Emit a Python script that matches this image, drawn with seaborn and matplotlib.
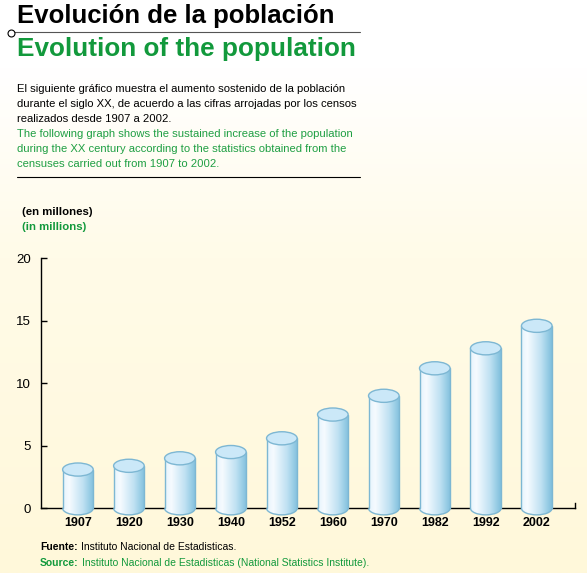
import numpy as np
import pandas as pd
import matplotlib
matplotlib.use("Agg")
import matplotlib.pyplot as plt
import seaborn as sns
from matplotlib.patches import Ellipse, Arc
from matplotlib.colors import LinearSegmentedColormap
from matplotlib.lines import Line2D

# data (millions)
YEARS = ["1907", "1920", "1930", "1940", "1952", "1960", "1970", "1982", "1992", "2002"]
POPULATION = [3.1, 3.4, 4.0, 4.5, 5.6, 7.5, 9.0, 11.2, 12.8, 14.6]
Y_TICKS = [0, 5, 10, 15, 20]

TITLE_ES = "Evolución de la población"
TITLE_EN = "Evolution of the population"
TEXT_ES = ["El siguiente gráfico muestra el aumento sostenido de la población",
           "durante el siglo XX, de acuerdo a las cifras arrojadas por los censos",
           "realizados desde 1907 a 2002."]
TEXT_EN = ["The following graph shows the sustained increase of the population",
           "during the XX century according to the statistics obtained from the",
           "censuses carried out from 1907 to 2002."]

W, H = 587, 573
GREEN = "#12993c"
GREEN_TXT = "#1f9f43"
EDGE = "#7db7d3"

sns.set_theme(style="white")
plt.rcParams["font.family"] = ["Liberation Sans", "DejaVu Sans"]


def px(x, y):
    return x / W, 1 - y / H


fig = plt.figure(figsize=(W / 100, H / 100), dpi=100)

# background: white at the top fading to cream
bg = fig.add_axes([0, 0, 1, 1], zorder=-10)
bg_cmap = LinearSegmentedColormap.from_list(
    "bg", [(0, "#ffffff"), (0.12, "#ffffff"), (0.45, "#fffbe8"), (1, "#fff8da")])
bg.imshow(np.linspace(0, 1, 256).reshape(-1, 1), aspect="auto", cmap=bg_cmap,
          extent=[0, 1, 0, 1], origin="upper")
bg.axis("off")

# chart axes (data 0 at y=508 px, 12.5 px per unit)
y_low = -0.6
ax = fig.add_axes([40.7 / W, 1 - (508.3 - y_low * 12.5) / H,
                   (575 - 40.7) / W, (20 - y_low) * 12.5 / H])
ax.patch.set_alpha(0)

df = pd.DataFrame({"year": YEARS, "population": POPULATION})
sns.barplot(data=df, x="year", y="population", width=0.6, color="#bfe3f5", ax=ax)

cyl_cmap = LinearSegmentedColormap.from_list(
    "cyl", [(0, "#e6f4fc"), (0.2, "#f6fbff"), (0.65, "#bfe1f2"), (1, "#80c0dd")])
grad = np.linspace(0, 1, 64).reshape(1, -1)
EH = 1.05  # ellipse height in data units

for p in list(ax.patches):
    x0, w, h = p.get_x(), p.get_width(), p.get_height()
    cx = x0 + w / 2
    p.set_facecolor("none")
    p.set_edgecolor("none")
    body = ax.imshow(grad, cmap=cyl_cmap, extent=[x0, x0 + w, 0, h],
                     aspect="auto", origin="lower", zorder=3)
    body.set_clip_path(p)
    base = Ellipse((cx, 0), w, EH, facecolor="none", edgecolor="none")
    ax.add_patch(base)
    bimg = ax.imshow(grad, cmap=cyl_cmap, extent=[x0, x0 + w, -EH / 2, 0],
                     aspect="auto", origin="lower", zorder=3)
    bimg.set_clip_path(base)
    ax.plot([x0, x0], [0, h], color=EDGE, lw=1, zorder=4)
    ax.plot([x0 + w, x0 + w], [0, h], color=EDGE, lw=1, zorder=4)
    ax.add_patch(Arc((cx, 0), w, EH, theta1=180, theta2=360, color=EDGE, lw=1, zorder=4))
    ax.add_patch(Ellipse((cx, h), w, EH, facecolor="#cbe8f8", edgecolor=EDGE, lw=1, zorder=5))

ax.set_xlim(-0.73, 9.75)
ax.set_ylim(y_low, 20)
ax.set_yticks(Y_TICKS)
ax.set_xlabel("")
ax.set_ylabel("")

for s in ["left", "bottom", "right"]:
    ax.spines[s].set_color("black")
    ax.spines[s].set_linewidth(1)
ax.spines["top"].set_visible(False)
ax.spines["bottom"].set_position(("data", 0))
ax.spines["left"].set_bounds(0, 20)
ax.spines["right"].set_bounds(0, 0.4)

ax.tick_params(axis="y", direction="in", length=4, width=1, labelsize=9.5,
               pad=7, colors="black", left=True)
ax.tick_params(axis="x", length=0, labelsize=9, pad=6, colors="black")
for lbl in ax.get_xticklabels():
    lbl.set_fontweight("bold")

# header
fig.text(*px(17, 23), TITLE_ES, fontsize=18.5, weight="bold", color="black", va="baseline")
fig.text(*px(17, 56), TITLE_EN, fontsize=18.8, weight="bold", color=GREEN, va="baseline")
fig.add_artist(Line2D([14 / W, 360 / W], [1 - 32 / H] * 2, color="#555555", lw=0.8))
fig.add_artist(Line2D([11 / W], [1 - 33 / H], marker="o", markersize=5,
                      mfc="white", mec="black", mew=0.8))

for i, line in enumerate(TEXT_ES):
    fig.text(*px(17, 92 + 15 * i), line, fontsize=8.1, color="black", va="baseline")
for i, line in enumerate(TEXT_EN):
    fig.text(*px(17, 137 + 15 * i), line, fontsize=8.1, color=GREEN_TXT, va="baseline")
fig.add_artist(Line2D([17 / W, 360 / W], [1 - 177 / H] * 2, color="black", lw=0.8))

fig.text(*px(22, 215), "(en millones)", fontsize=8.2, weight="bold", color="black", va="baseline")
fig.text(*px(22, 230), "(in millions)", fontsize=8.2, weight="bold", color=GREEN, va="baseline")

# footer, bold lead-in followed by regular text
renderer = fig.canvas.get_renderer()
for y, lead, rest, col in [(550, "Fuente:", "Instituto Nacional de Estadisticas.", "black"),
                           (566, "Source:", "Instituto Nacional de Estadisticas (National Statistics Institute).", GREEN)]:
    t = fig.text(*px(40, y), lead, fontsize=7.5, weight="bold", color=col, va="baseline")
    bb = t.get_window_extent(renderer)
    fig.text((bb.x1 + 3) / W, 1 - y / H, rest, fontsize=7.5, color=col, va="baseline")

fig.savefig("out.png", dpi=100)
plt.close(fig)
